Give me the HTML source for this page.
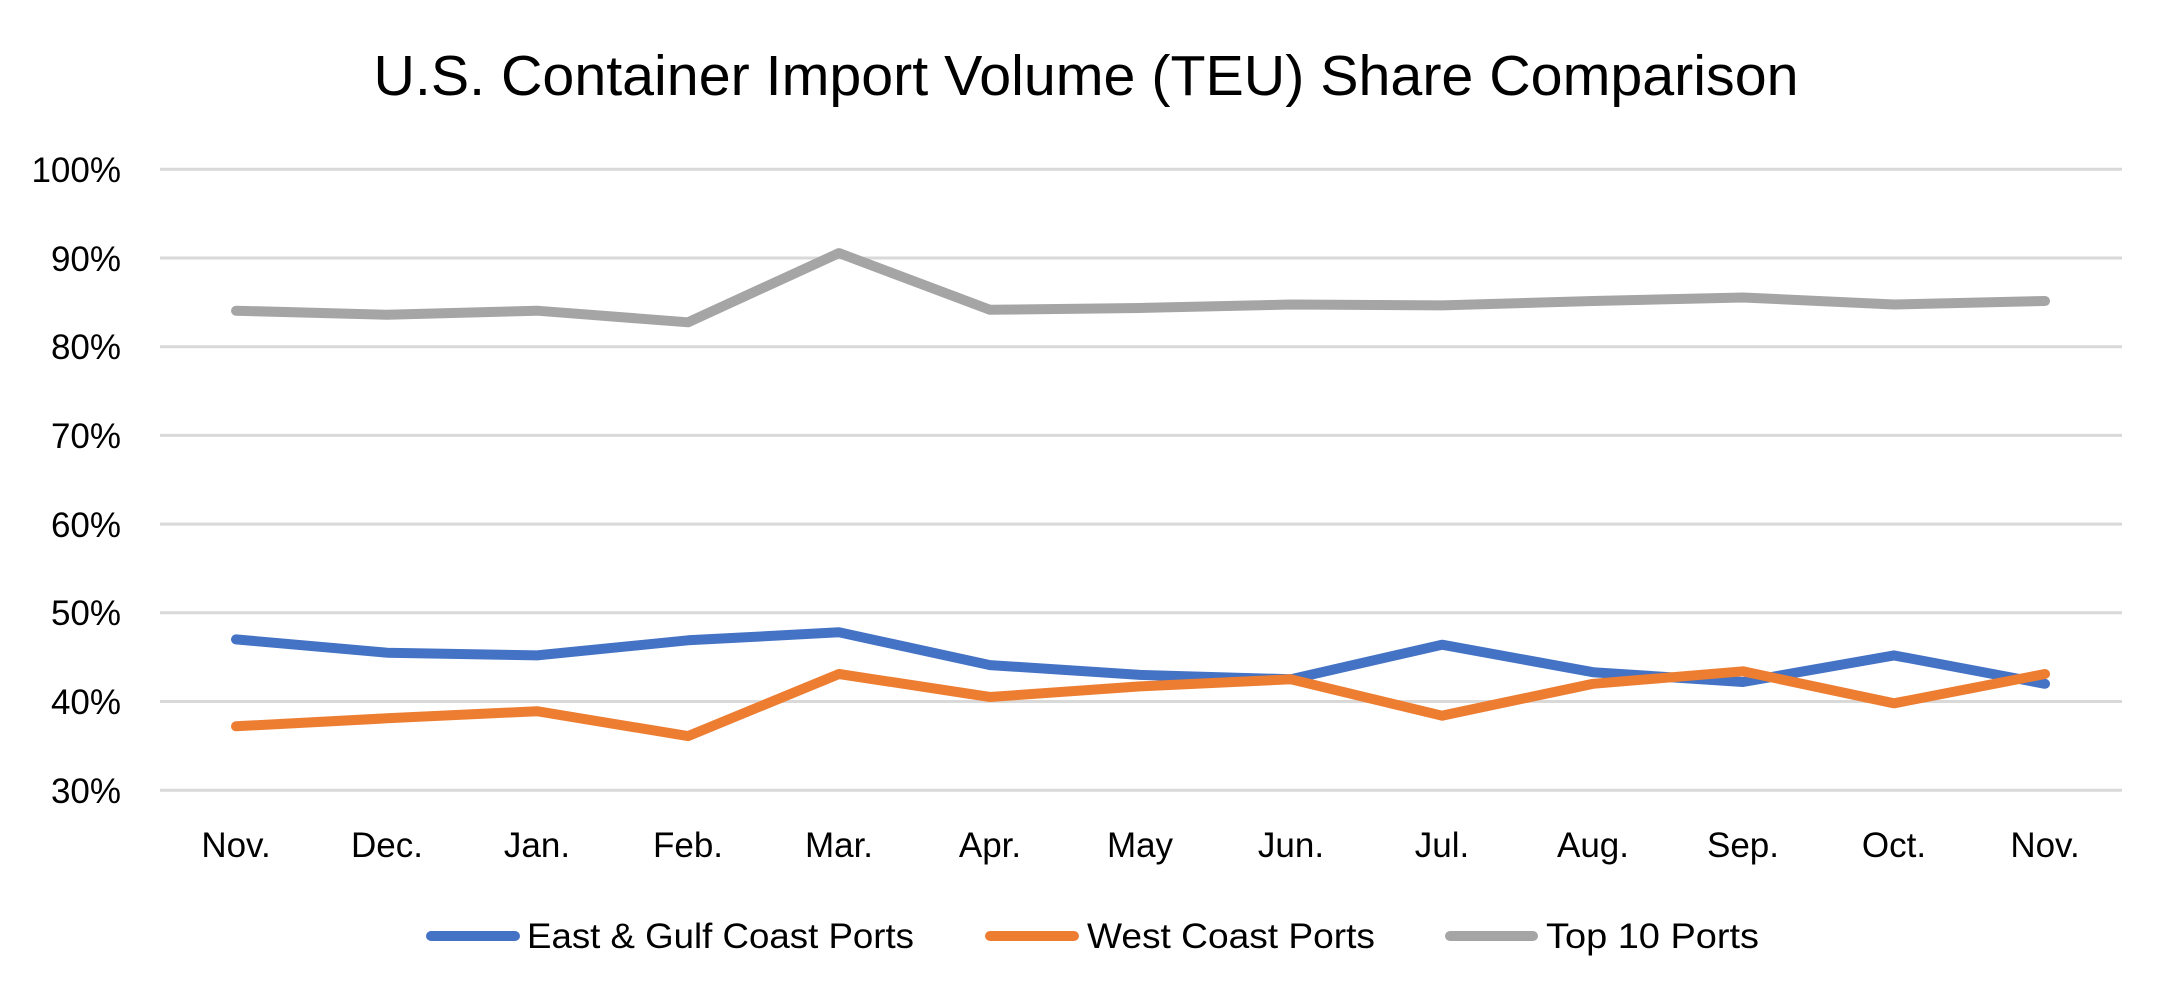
<!DOCTYPE html>
<html><head><meta charset="utf-8"><style>html,body{margin:0;padding:0;background:#fff}svg{display:block}text{font-family:"Liberation Sans",sans-serif;fill:#000}</style></head>
<body>
<svg width="2160" height="998" viewBox="0 0 2160 998" xmlns="http://www.w3.org/2000/svg">
<text x="1086" y="95" font-size="57" text-anchor="middle" textLength="1425" lengthAdjust="spacingAndGlyphs">U.S. Container Import Volume (TEU) Share Comparison</text>
<g stroke="#d9d9d9" stroke-width="3">
<line x1="160" x2="2122" y1="169.3" y2="169.3"/><line x1="160" x2="2122" y1="258" y2="258"/><line x1="160" x2="2122" y1="346.7" y2="346.7"/><line x1="160" x2="2122" y1="435.4" y2="435.4"/><line x1="160" x2="2122" y1="524.1" y2="524.1"/><line x1="160" x2="2122" y1="612.8" y2="612.8"/><line x1="160" x2="2122" y1="701.5" y2="701.5"/><line x1="160" x2="2122" y1="790.2" y2="790.2"/>
</g>
<g font-size="35" text-anchor="end">
<text x="121" y="182">100%</text><text x="121" y="271">90%</text><text x="121" y="359">80%</text><text x="121" y="448">70%</text><text x="121" y="537">60%</text><text x="121" y="625">50%</text><text x="121" y="714">40%</text><text x="121" y="803">30%</text>
</g>
<g font-size="35" text-anchor="middle">
<text x="236" y="857">Nov.</text><text x="387" y="857">Dec.</text><text x="537" y="857">Jan.</text><text x="688" y="857">Feb.</text><text x="839" y="857">Mar.</text><text x="990" y="857">Apr.</text><text x="1140" y="857">May</text><text x="1291" y="857">Jun.</text><text x="1442" y="857">Jul.</text><text x="1593" y="857">Aug.</text><text x="1743" y="857">Sep.</text><text x="1894" y="857">Oct.</text><text x="2045" y="857">Nov.</text>
</g>
<g fill="none" stroke-width="10" stroke-linejoin="round" stroke-linecap="round">
<polyline stroke="#a5a5a5" points="236,310.7 387,314.8 537,310.7 688,322.3 839,253.1 990,309.8 1140,308 1291,304.5 1442,305.4 1593,301 1743,297.5 1894,304.5 2045,301"/>
<polyline stroke="#4472c4" points="236,639.4 387,652.7 537,655.4 688,640.3 839,632.3 990,665.1 1140,674.9 1291,679.3 1442,644.7 1593,672.2 1743,682 1894,655.4 2045,683.8"/>
<polyline stroke="#ed7d31" points="236,726.3 387,718.3 537,711.2 688,736.1 839,674 990,697 1140,686.4 1291,679.3 1442,715.7 1593,683.8 1743,671.3 1894,703.3 2045,674"/>
</g>
<g stroke-width="10" stroke-linecap="round">
<line x1="431" x2="515" y1="936" y2="936" stroke="#4472c4"/>
<line x1="990" x2="1074" y1="936" y2="936" stroke="#ed7d31"/>
<line x1="1450" x2="1533" y1="936" y2="936" stroke="#a5a5a5"/>
</g>
<g font-size="35">
<text x="527" y="948" textLength="387" lengthAdjust="spacingAndGlyphs">East &amp; Gulf Coast Ports</text>
<text x="1087" y="948" textLength="288" lengthAdjust="spacingAndGlyphs">West Coast Ports</text>
<text x="1546" y="948" textLength="213" lengthAdjust="spacingAndGlyphs">Top 10 Ports</text>
</g>
</svg>
</body></html>
